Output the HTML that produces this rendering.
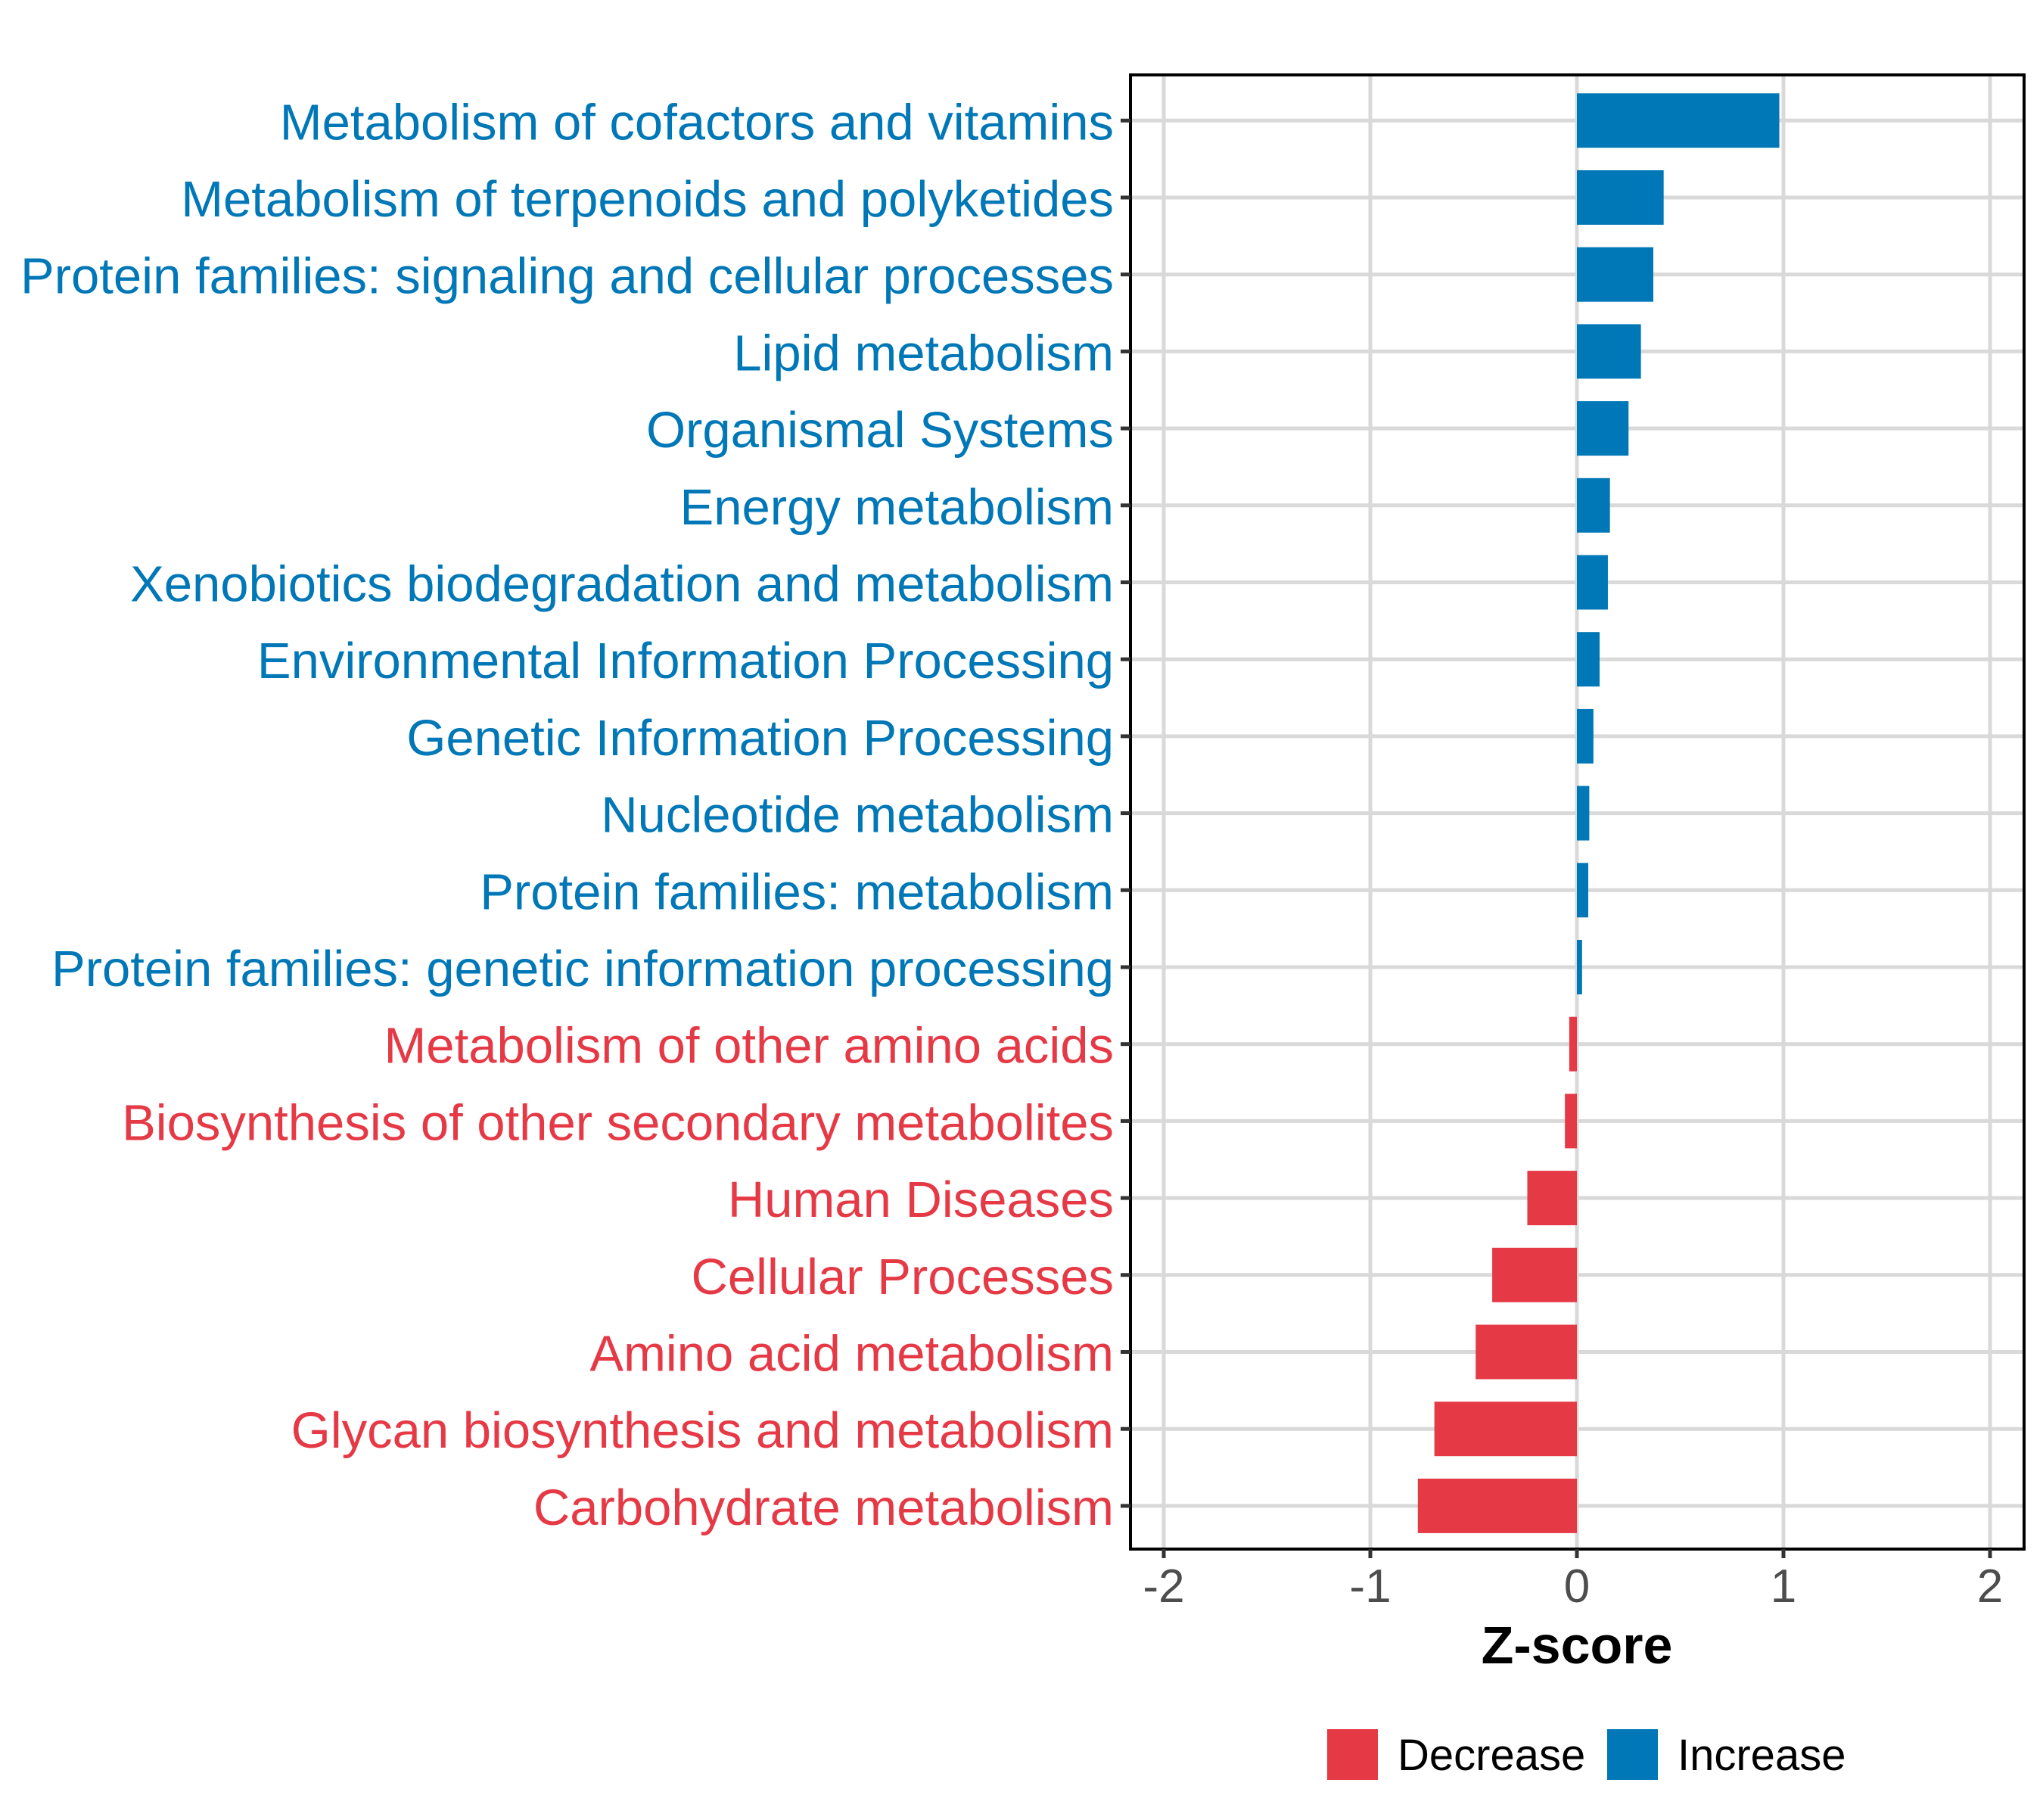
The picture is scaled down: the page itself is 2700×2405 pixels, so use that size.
<!DOCTYPE html>
<html><head><meta charset="utf-8">
<style>
html,body{margin:0;padding:0;background:#fff;}
svg text{font-family:"Liberation Sans",Arial,sans-serif;}
</style></head>
<body>
<svg id="chart" width="2700" height="2400" viewBox="0 0 2700 2400" xmlns="http://www.w3.org/2000/svg">
<rect x="0" y="0" width="2700" height="2400" fill="#fff"/>
<g id="grid"></g>
<g id="bars"></g>
<rect x="1494" y="99" width="1181" height="1948" fill="none" stroke="#000" stroke-width="4"/>
<g id="yaxis"></g>
<g id="xaxis"></g>
<text x="2084" y="2198" text-anchor="middle" font-size="70" font-weight="bold" fill="#000">Z-score</text>
<g>
  <rect x="1754" y="2285" width="67" height="67" fill="#E63946"/>
  <text x="1847" y="2339" font-size="58" fill="#000">Decrease</text>
  <rect x="2124" y="2285" width="67" height="67" fill="#0077B6"/>
  <text x="2217" y="2339" font-size="58" fill="#000">Increase</text>
</g>
</svg>
<script>
const categories = ["Metabolism of cofactors and vitamins","Metabolism of terpenoids and polyketides","Protein families: signaling and cellular processes","Lipid metabolism","Organismal Systems","Energy metabolism","Xenobiotics biodegradation and metabolism","Environmental Information Processing","Genetic Information Processing","Nucleotide metabolism","Protein families: metabolism","Protein families: genetic information processing","Metabolism of other amino acids","Biosynthesis of other secondary metabolites","Human Diseases","Cellular Processes","Amino acid metabolism","Glycan biosynthesis and metabolism","Carbohydrate metabolism"];
const zscores = [0.98,0.42,0.37,0.31,0.25,0.16,0.15,0.11,0.08,0.06,0.055,0.025,-0.037,-0.058,-0.24,-0.41,-0.49,-0.69,-0.77];
const xTicks = [-2,-1,0,1,2];
const xTickLabels = ["-2","-1","0","1","2"];

const NS="http://www.w3.org/2000/svg";
const X0=2084, UNIT=273, Y0=159.3, STEP=101.7, BARH=72;
const PL=1494, PR=2675, PT=99, PB=2047;
function xs(v){return X0+v*UNIT;}
function ys(i){return Y0+i*STEP;}
function mk(tag,attrs){const e=document.createElementNS(NS,tag);for(const k in attrs)e.setAttribute(k,attrs[k]);return e;}
const grid=document.getElementById('grid'),bars=document.getElementById('bars'),ya=document.getElementById('yaxis'),xa=document.getElementById('xaxis');
xTicks.forEach((t,i)=>{
  const l=mk('line',{x1:xs(t),x2:xs(t),y1:PT,y2:PB,stroke:'#d9d9d9','stroke-width':5});
  
  
  grid.appendChild(l);
  const tk=mk('line',{x1:xs(t),x2:xs(t),y1:PB,y2:PB+12,stroke:'#333','stroke-width':5});
  
  
  xa.appendChild(tk);
  const tx=mk('text',{x:xs(t),y:2117,'text-anchor':'middle','font-size':62,fill:'#4d4d4d'});
  tx.textContent=xTickLabels[i];
  
  
  xa.appendChild(tx);
});
categories.forEach((c,i)=>{
  const y=ys(i), v=zscores[i], col=v>=0?'#0077B6':'#E63946';
  const g=mk('line',{x1:PL,x2:PR,y1:y,y2:y,stroke:'#d9d9d9','stroke-width':5});
  
  
  grid.appendChild(g);
  const r=mk('rect',{x:Math.min(xs(0),xs(v)),y:y-BARH/2,width:Math.abs(xs(v)-xs(0)),height:BARH,fill:col});
  
  
  bars.appendChild(r);
  const tk=mk('line',{x1:PL-13,x2:PL,y1:y,y2:y,stroke:'#333','stroke-width':5});
  
  
  ya.appendChild(tk);
  const tx=mk('text',{x:1472,y:y+25,'text-anchor':'end','font-size':67,fill:col});
  tx.textContent=c;
  
  
  ya.appendChild(tx);
});
</script>
</body></html>
